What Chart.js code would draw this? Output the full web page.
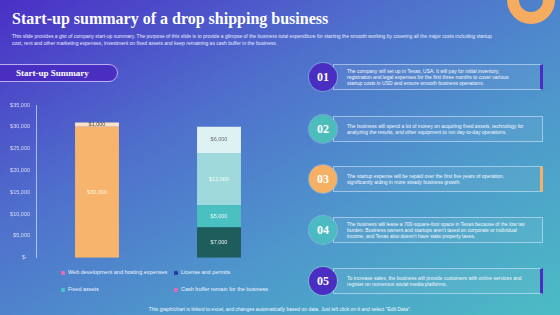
<!DOCTYPE html>
<html>
<head>
<meta charset="utf-8">
<script src="https://cdn.jsdelivr.net/npm/chart.js@4.4.0/dist/chart.umd.min.js"></script>
<style>
  html, body { margin: 0; padding: 0; }
  body {
    width: 560px; height: 315px; overflow: hidden; position: relative;
    background: linear-gradient(to bottom right, #4a2fc6 0%, #4f6fcc 35%, #4e97cc 65%, #4bbcc4 100%);
    font-family: "Liberation Sans", Arial, sans-serif; color: #fff;
  }
  .ring {
    position: absolute; left: 507px; top: -24px; width: 24px; height: 24px;
    border: 12px solid #f6ac5e; border-radius: 50%;
  }
  h1 {
    position: absolute; left: 12px; top: 10px; margin: 0;
    font: bold 16px "Liberation Serif", "DejaVu Serif", serif; color: #fff;
  }
  .sub {
    position: absolute; left: 12px; top: 33px; width: 500px;
    font-size: 5px; line-height: 7px; color: #e8ecff;
  }
  .pill {
    position: absolute; left: -12px; top: 64px; width: 130px; height: 18px;
    background: #4a2ec2; border: 1px solid #b9aef0; border-radius: 0 10px 10px 0;
    box-sizing: border-box;
  }
  .pill span {
    position: absolute; left: 27px; top: 3px;
    font: bold 9px "Liberation Serif", serif; color: #fff;
  }
  #chartBox { position: absolute; left: 0; top: 95px; width: 290px; height: 172px; }
  .legend { position: absolute; font-size: 5.5px; color: #f0f4ff; white-space: nowrap; }
  .legend i { display: inline-block; width: 4px; height: 4px; margin-right: 3px; vertical-align: -0.5px; border-radius: 1px; }
  .item { position: absolute; left: 309px; width: 234px; height: 26px; }
  .item .box {
    position: absolute; left: 24px; top: 0; right: 0; bottom: 0;
    border: 1px solid rgba(220, 235, 255, 0.55); background: rgba(255, 255, 255, 0.05);
    box-sizing: border-box;
  }
  .item .box.mark { border-right: 3px solid var(--c); }
  .item .num {
    position: absolute; left: 0; top: -1px; width: 28px; height: 28px; border-radius: 50%;
    background: var(--c); box-shadow: 0 0 0 1px rgba(255, 255, 255, 0.25);
    font: bold 12px "Liberation Serif", serif; color: #fff; text-align: center; line-height: 28px;
  }
  .item p {
    position: absolute; left: 38px; top: 50%; transform: translateY(-50%); width: 178px; margin: 0;
    font-size: 5px; line-height: 6.2px; color: #f4f8ff;
  }
  .foot {
    position: absolute; left: 0; width: 560px; top: 306px; text-align: center;
    font-size: 5px; color: #f4f8ff;
  }
</style>
</head>
<body>
<div class="ring"></div>
<h1>Start-up summary of a drop shipping business</h1>
<div class="sub">This slide provides a gist of company start-up summary. The purpose of this slide is to provide a glimpse of the business total expenditure for starting the smooth working by covering all the major costs including startup<br>cost, rent and other marketing expenses, investment on fixed assets and keep remaining as cash buffer in the business.</div>
<div class="pill"><span>Start-up Summary</span></div>

<div id="chartBox"><canvas id="chart"></canvas></div>

<div class="legend" style="left:61px;top:269px"><i style="background:#e46cbc"></i>Web development and hosting expenses</div>
<div class="legend" style="left:174px;top:269px"><i style="background:#2b3aa6"></i>License and permits</div>
<div class="legend" style="left:61px;top:286px"><i style="background:#47c2c6"></i>Fixed assets</div>
<div class="legend" style="left:174px;top:286px"><i style="background:#dc68c0"></i>Cash buffer remain for the business</div>

<div class="item" style="top:64px;--c:#4a2ec2"><div class="box mark"></div><div class="num">01</div>
  <p>The company will set up in Texas, USA. It will pay for initial inventory, registration and legal expenses for the first three months to cover various startup costs in USD and ensure smooth business operations.</p></div>
<div class="item" style="top:116px;--c:#4dbdbb"><div class="box"></div><div class="num">02</div>
  <p>The business will spend a lot of money on acquiring fixed assets, technology for analyzing the results, and other equipment to run day-to-day operations.</p></div>
<div class="item" style="top:166px;--c:#f6b063"><div class="box mark"></div><div class="num">03</div>
  <p>The startup expense will be repaid over the first five years of operation, significantly aiding in more steady business growth.</p></div>
<div class="item" style="top:217px;--c:#4bbac2"><div class="box"></div><div class="num">04</div>
  <p>The business will lease a 700-square-foot space in Texas because of the low tax burden. Business owners and startups aren't taxed on corporate or individual income, and Texas also doesn't have state property taxes.</p></div>
<div class="item" style="top:268px;--c:#4a2ec2"><div class="box mark"></div><div class="num">05</div>
  <p>To increase sales, the business will provide customers with online services and register on numerous social media platforms.</p></div>

<div class="foot">This graph/chart is linked to excel, and changes automatically based on data. Just left click on it and select "Edit Data".</div>

<script>
const categories = ["Start-up expenses", "Start-up assets"];
const startupExpenses = [30000, null];
const expenseBuffer = [1000, null];
const licenseAndPermits = [null, 7000];
const fixedAssets = [null, 5000];
const equipment = [null, 12000];
const cashBuffer = [null, 6000];
const yTicks = [0, 5000, 10000, 15000, 20000, 25000, 30000, 35000];

const money = v => v === 0 ? "$-  " : "$" + v.toLocaleString("en-US");

const barLabels = {
  id: "barLabels",
  afterDatasetsDraw(chart) {
    const ctx = chart.ctx;
    ctx.save();
    ctx.font = "5.5px 'Liberation Sans', Arial, sans-serif";
    ctx.textAlign = "center";
    ctx.textBaseline = "middle";
    chart.data.datasets.forEach((ds, i) => {
      chart.getDatasetMeta(i).data.forEach((bar, j) => {
        const v = ds.data[j];
        if (v == null) return;
        ctx.fillStyle = ds.labelColor;
        ctx.fillText(money(v), bar.x, (bar.y + bar.base) / 2);
      });
    });
    ctx.restore();
  }
};

const ds = (label, data, color, labelColor) => ({
  label, data, backgroundColor: color, labelColor,
  categoryPercentage: 1, barPercentage: 0.36, borderWidth: 0
});

new Chart(document.getElementById("chart"), {
  type: "bar",
  data: {
    labels: categories,
    datasets: [
      ds("Start-up expenses", startupExpenses, "#f7b46c", "#fff4e6"),
      ds("Expense buffer", expenseBuffer, "#fbe2c6", "#4a4a4a"),
      ds("License and permits", licenseAndPermits, "#1f5c5c", "#e8f6f6"),
      ds("Fixed assets", fixedAssets, "#4bc0c0", "#effafa"),
      ds("Equipment", equipment, "#9fd9db", "#f4fbfb"),
      ds("Cash buffer", cashBuffer, "#dff2f3", "#6a6a6a")
    ]
  },
  options: {
    responsive: true,
    maintainAspectRatio: false,
    animation: false,
    layout: { padding: { top: 10, bottom: 4, right: 10, left: 0 } },
    plugins: { legend: { display: false }, tooltip: { enabled: false } },
    scales: {
      x: { stacked: true, display: false },
      y: {
        stacked: true, min: 0, max: 35000,
        afterBuildTicks: s => { s.ticks = yTicks.map(v => ({ value: v })); },
        afterFit: s => { s.width = 36; },
        grid: { display: false, drawTicks: false },
        border: { display: true, color: "rgba(215,225,255,0.7)", width: 1 },
        ticks: {
          padding: 6, color: "#dcdcf4",
          font: { family: "'Liberation Sans', Arial, sans-serif", size: 5.5 },
          callback: v => money(v)
        }
      }
    }
  },
  plugins: [barLabels]
});
</script>
</body>
</html>
